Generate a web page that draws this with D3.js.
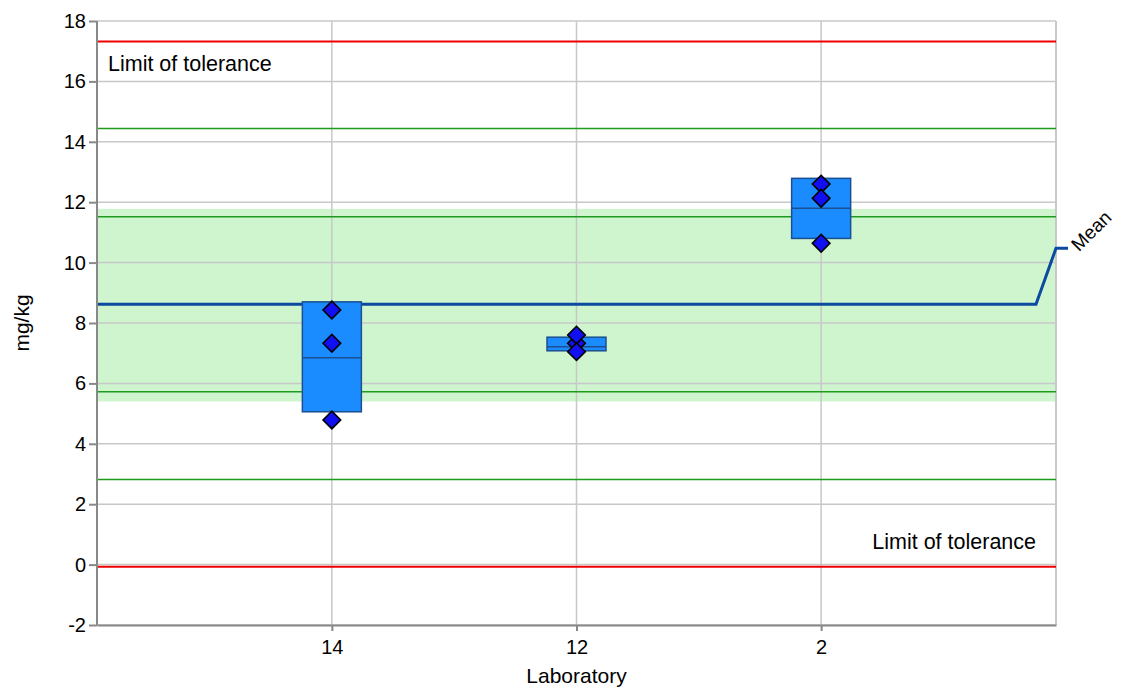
<!DOCTYPE html>
<html>
<head>
<meta charset="utf-8">
<script src="https://cdn.jsdelivr.net/npm/d3@7"></script>
<style>
  html, body { margin: 0; padding: 0; background: #fff; }
  svg text { font-family: "Liberation Sans", Arial, sans-serif; fill: #000; }
</style>
</head>
<body>
<svg id="chart" width="1124" height="687"></svg>
<script>
// ---- data ----
const labs = ["14", "12", "2"];
const boxLow = [5.06, 7.08, 10.80];
const boxMedian = [6.85, 7.21, 11.80];
const boxHigh = [8.70, 7.53, 12.79];
const results14 = [8.43, 7.33, 4.79];
const results12 = [7.33, 7.60, 7.05];
const results2 = [12.60, 12.13, 10.64];
const yTicks = [-2, 0, 2, 4, 6, 8, 10, 12, 14, 16, 18];
const meanValue = 8.62;
const sdLines = [14.44, 11.52, 5.72, 2.82];
const toleranceLimits = [17.32, -0.07];
const bandRange = [5.40, 11.78];

const results = [results14, results12, results2];

const W = 1124, H = 687;
const m = { left: 97, right: 68, top: 21, bottom: 62 };
const svg = d3.select("#chart");

const x = d3.scalePoint().domain(labs).range([m.left, W - m.right]).padding(0.96);
const y = d3.scaleLinear().domain([-2, 18]).range([H - m.bottom, m.top]);
const x0 = m.left, x1 = W - m.right;

// green band
svg.append("rect")
  .attr("x", x0).attr("width", x1 - x0)
  .attr("y", y(bandRange[1])).attr("height", y(bandRange[0]) - y(bandRange[1]))
  .attr("fill", "#cff5cf");

// gridlines
svg.append("g").selectAll("line").data(yTicks).join("line")
  .attr("x1", x0).attr("x2", x1)
  .attr("y1", d => y(d)).attr("y2", d => y(d))
  .attr("stroke", "#c8c8c8").attr("stroke-width", 1.5);
svg.append("g").selectAll("line").data(labs).join("line")
  .attr("x1", d => x(d)).attr("x2", d => x(d))
  .attr("y1", y(18)).attr("y2", y(-2))
  .attr("stroke", "#c8c8c8").attr("stroke-width", 1.5);
// right border
svg.append("line").attr("x1", x1).attr("x2", x1).attr("y1", y(18)).attr("y2", y(-2))
  .attr("stroke", "#c8c8c8").attr("stroke-width", 2);

// sd lines
svg.append("g").selectAll("line").data(sdLines).join("line")
  .attr("x1", x0).attr("x2", x1)
  .attr("y1", d => y(d)).attr("y2", d => y(d))
  .attr("stroke", "#1e9a1e").attr("stroke-width", 1.5);

// tolerance limits
svg.append("g").selectAll("line").data(toleranceLimits).join("line")
  .attr("x1", x0).attr("x2", x1)
  .attr("y1", d => y(d)).attr("y2", d => y(d))
  .attr("stroke", "#ee0000").attr("stroke-width", 2);

svg.append("text").attr("x", x0 + 11).attr("y", y(toleranceLimits[0]) + 29)
  .attr("font-size", 21.5).text("Limit of tolerance");
svg.append("text").attr("x", x1 - 20).attr("y", y(toleranceLimits[1]) - 18)
  .attr("text-anchor", "end").attr("font-size", 21.5).text("Limit of tolerance");

// mean line with label elbow
const ym = y(meanValue);
const elbowY = ym - 56;
svg.append("path")
  .attr("d", `M${x0},${ym}H${x1 - 20}L${x1},${elbowY}H${x1 + 12}`)
  .attr("fill", "none").attr("stroke", "#0b4a9e").attr("stroke-width", 3);
svg.append("text")
  .attr("transform", `translate(${x1 + 23},${elbowY + 4}) rotate(-45)`)
  .attr("font-size", 19).text("Mean");

// boxes
const bw = 59;
const boxes = svg.append("g").selectAll("g").data(labs).join("g");
boxes.append("rect")
  .attr("x", d => x(d) - bw / 2).attr("width", bw)
  .attr("y", (d, i) => y(boxHigh[i]))
  .attr("height", (d, i) => y(boxLow[i]) - y(boxHigh[i]))
  .attr("fill", "#1a8cff").attr("stroke", "#1c4f8f").attr("stroke-width", 1.5);
boxes.append("line")
  .attr("x1", d => x(d) - bw / 2).attr("x2", d => x(d) + bw / 2)
  .attr("y1", (d, i) => y(boxMedian[i])).attr("y2", (d, i) => y(boxMedian[i]))
  .attr("stroke", "#1c4f8f").attr("stroke-width", 1.5);

// points (diamonds)
const pts = [];
labs.forEach((l, i) => results[i].forEach(v => pts.push({ lab: l, v })));
const sym = d3.symbol().type(d3.symbolSquare).size(155);
svg.append("g").selectAll("path").data(pts).join("path")
  .attr("d", sym)
  .attr("transform", d => `translate(${x(d.lab)},${y(d.v)}) rotate(45)`)
  .attr("fill", "#1010f0").attr("stroke", "#000").attr("stroke-width", 1.6);

// axes
const yAxis = svg.append("g").attr("transform", `translate(${x0},0)`)
  .call(d3.axisLeft(y).tickValues(yTicks).tickFormat(d => String(d))
    .tickSize(8).tickPadding(3).tickSizeOuter(0));
const xAxis = svg.append("g").attr("transform", `translate(0,${y(-2)})`)
  .call(d3.axisBottom(x).tickSize(6).tickPadding(9).tickSizeOuter(0));
[yAxis, xAxis].forEach(a => {
  a.attr("font-size", null);
  a.select(".domain").attr("stroke", "#888").attr("stroke-width", 2);
  a.selectAll(".tick line").attr("stroke", "#888").attr("stroke-width", 2);
  a.selectAll(".tick text").attr("fill", "#000")
    .style("font-size", "20px")
    .style("font-family", "'Liberation Sans', Arial, sans-serif");
});
yAxis.select(".domain").attr("d", `M0,${y(18)}V${y(-2)}`);

// axis titles
svg.append("text").attr("transform", `translate(29,${(y(18) + y(-2)) / 2}) rotate(-90)`)
  .attr("text-anchor", "middle").attr("font-size", 21).text("mg/kg");
svg.append("text").attr("x", (x0 + x1) / 2).attr("y", 683)
  .attr("text-anchor", "middle").attr("font-size", 21).text("Laboratory");
</script>
</body>
</html>
